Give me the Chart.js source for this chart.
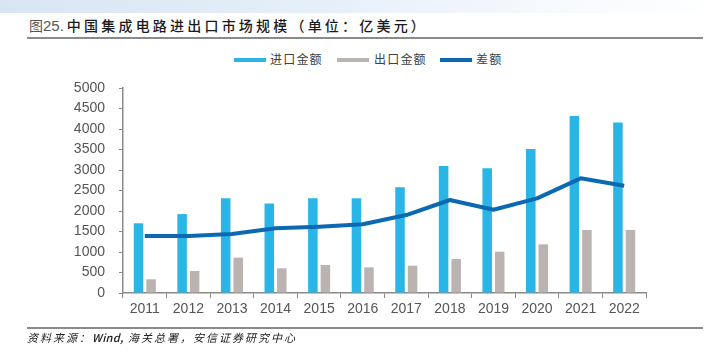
<!DOCTYPE html>
<html>
<head>
<meta charset="utf-8">
<script src="https://cdn.jsdelivr.net/npm/chart.js@4"></script>
<style>
  html, body { margin: 0; padding: 0; background: #fff; }
  #wrap { position: relative; width: 723px; height: 353px; overflow: hidden; background: #fff; }
  #band { position: absolute; left: 0; top: 0; width: 723px; height: 13px;
          background: linear-gradient(to right, #d8e5f3 0%, #e6eff9 45%, #f6f9fd 75%, #ffffff 100%); }
  #title { position: absolute; left: 29px; top: 15px; font-family: "Noto Sans CJK SC", sans-serif;
           font-size: 14px; line-height: 20px; color: #1a1a1a; letter-spacing: 3.2px; font-weight: 500; white-space: nowrap; }
  #title .num { font-family: "Liberation Sans Narrow", "Liberation Sans", sans-serif; color: #555; font-weight: 400; font-size: 15px; letter-spacing: 0; margin-right: 3px; }
  #title .tu { color: #555; font-weight: 400; letter-spacing: 0; }
  #tline { position: absolute; left: 27px; top: 37px; width: 676px; height: 2px; background: #8a8a8a; }
  #fline { position: absolute; left: 27px; top: 327px; width: 676px; height: 1.5px; background: #8a8a8a; }
  #foot { position: absolute; left: 27px; top: 329px; font-family: "Noto Sans CJK SC", sans-serif; font-style: italic;
          font-size: 11px; line-height: 16px; color: #222; letter-spacing: 2px; white-space: nowrap; }
  #foot .en { letter-spacing: 0.3px; font-weight: 500; }
  .lg { position: absolute; font-family: "Noto Sans CJK SC", sans-serif; font-size: 12px; line-height: 16px; color: #404040; letter-spacing: 1.2px; white-space: nowrap; top: 51px; }
  .sw { position: absolute; height: 4px; top: 57.5px; width: 32px; }
  canvas { position: absolute; left: 0; top: 0; }
</style>
</head>
<body>
<div id="wrap">
  <div id="band"></div>
  <div id="title"><span class="tu">图</span><span class="num">25.</span>中国集成电路进出口市场规模（单位：亿美元）</div>
  <div id="tline"></div>
  <div class="sw" style="left:234px;background:#29b6e7"></div>
  <div class="lg" style="left:270px">进口金额</div>
  <div class="sw" style="left:337px;background:#bbb3b0"></div>
  <div class="lg" style="left:374px">出口金额</div>
  <div class="sw" style="left:440px;background:#0b69b1"></div>
  <div class="lg" style="left:476px">差额</div>
  <canvas id="c" width="723" height="353"></canvas>
  <div id="fline"></div>
  <div id="foot">资料来源：<span class="en">Wind,</span> 海关总署，安信证券研究中心</div>
</div>
<script>
const categories = ["2011","2012","2013","2014","2015","2016","2017","2018","2019","2020","2021","2022"];
const importValues = [1700, 1925, 2310, 2185, 2310, 2310, 2580, 3100, 3040, 3510, 4315, 4160];
const exportValues = [335, 537, 862, 602, 683, 626, 666, 829, 1008, 1187, 1537, 1539];
const balanceValues = [1390, 1390, 1440, 1577, 1618, 1675, 1902, 2268, 2030, 2309, 2797, 2617];
const seriesNames = ["进口金额", "出口金额", "差额"];
const yTickMin = 0, yTickMax = 5000, yTickStep = 500;

const tickFont = { family: "'Liberation Sans Narrow', 'Liberation Sans', Arial, sans-serif", size: 14 };
const axisColor = "#8a8a8a";

new Chart(document.getElementById("c"), {
  type: "bar",
  data: {
    labels: categories,
    datasets: [
      { type: "line", label: seriesNames[2], data: balanceValues, borderColor: "#0b69b1", backgroundColor: "#0b69b1",
        borderWidth: 4, pointRadius: 0, tension: 0, order: 0, borderJoinStyle: "round", borderCapStyle: "butt" },
      { label: seriesNames[0], data: importValues, backgroundColor: "#29b6e7", order: 1,
        barPercentage: 0.76, categoryPercentage: 0.575 },
      { label: seriesNames[1], data: exportValues, backgroundColor: "#bbb3b0", order: 1,
        barPercentage: 0.76, categoryPercentage: 0.575 }
    ]
  },
  options: {
    responsive: false,
    animation: false,
    devicePixelRatio: 1,
    layout: { padding: { left: 0, top: 88, right: 77, bottom: 0 } },
    plugins: { legend: { display: false }, tooltip: { enabled: false }, title: { display: false } },
    scales: {
      x: {
        afterFit: s => { s.height = 60; },
        grid: { display: true, drawOnChartArea: false, drawTicks: true, tickLength: 5, color: axisColor, offset: true },
        border: { display: true, color: axisColor, width: 1.5 },
        ticks: { color: "#555", font: tickFont, padding: 3, maxRotation: 0, autoSkip: false }
      },
      y: {
        min: yTickMin, max: yTickMax,
        afterFit: s => { s.width = 123; },
        grid: { display: true, drawOnChartArea: false, drawTicks: true, tickLength: 4, color: axisColor },
        border: { display: true, color: axisColor, width: 1.5 },
        ticks: { stepSize: yTickStep, color: "#555", font: tickFont, padding: 14, callback: v => String(v) }
      }
    }
  }
});
</script>
</body>
</html>
